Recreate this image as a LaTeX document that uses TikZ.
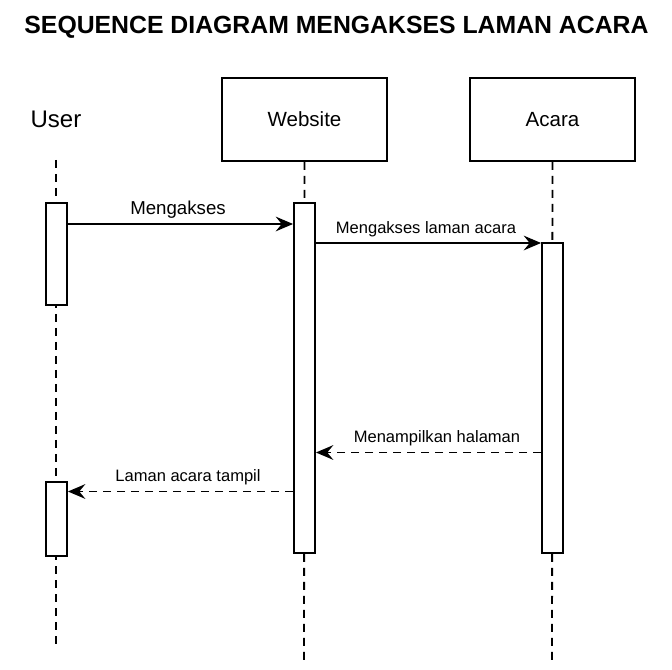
\documentclass[tikz,border=0pt]{standalone}
\usepackage{fontspec}
\setmainfont{Liberation Sans}
\usetikzlibrary{arrows.meta}
\begin{document}
\begin{tikzpicture}[x=0.75pt,y=-0.75pt,
  box/.style={draw,line width=1.4pt,fill=white,minimum width=123.75pt,minimum height=62.25pt,inner sep=0pt,font=\fontsize{15.4pt}{18pt}\selectfont},
  act/.style={draw,line width=1.4pt,fill=white,minimum width=15.75pt,inner sep=0pt},
  life/.style={line width=1.4pt,dash pattern=on 6pt off 4.5pt},
  msg/.style={line width=1.4pt,-{Stealth[length=13pt,width=11pt,inset=4.5pt]}},
  ret/.style={msg,dash pattern=on 6pt off 4.5pt},
  lbl/.style={font=\fontsize{12.4pt}{15pt}\selectfont,inner sep=1pt}]
\useasboundingbox (0,0) rectangle (672,670);
\node[font=\bfseries\fontsize{18.6pt}{22pt}\selectfont] (title) at (336.5,27) {SEQUENCE DIAGRAM MENGAKSES LAMAN ACARA};
% participants
\node[font=\fontsize{18pt}{21pt}\selectfont] (user) at (56,119) {User};
\node[box] (web) at (304.5,119.5) {Website};
\node[box] (acara) at (552.5,119.5) {Acara};
\coordinate (utop) at (56,160);
\coordinate (uend) at (56,645);
\coordinate (wend) at (304,660);
\coordinate (aend) at (552,660);
\draw[life] (utop) -- (uend);
\draw[life] (web.south) -- (wend);
\draw[life] (acara.south) -- (aend);
% activations
\node[act,minimum height=76.5pt] (ua1) at (56.5,254) {};
\node[act,minimum height=55.5pt] (ua2) at (56.5,519) {};
\node[act,minimum height=262.5pt] (wa) at (304.5,378) {};
\node[act,minimum height=232.5pt] (aa) at (552.5,398) {};
% messages
\draw[msg] (ua1.east |- 0,224) -- (wa.west |- 0,224);
\node[lbl,font=\fontsize{14pt}{16pt}\selectfont] (l1) at (178,210) {Mengakses};
\draw[msg] (wa.east |- 0,243) -- (aa.west |- 0,243);
\node[lbl] (l2) at (426,229) {Mengakses laman acara};
\draw[ret] (aa.west |- 0,452.5) -- (wa.east |- 0,452.5);
\node[lbl] (l3) at (437,438) {Menampilkan halaman};
\draw[ret] (wa.west |- 0,491.5) -- (ua2.east |- 0,491.5);
\node[lbl] (l4) at (188,477) {Laman acara tampil};
\end{tikzpicture}
\end{document}
